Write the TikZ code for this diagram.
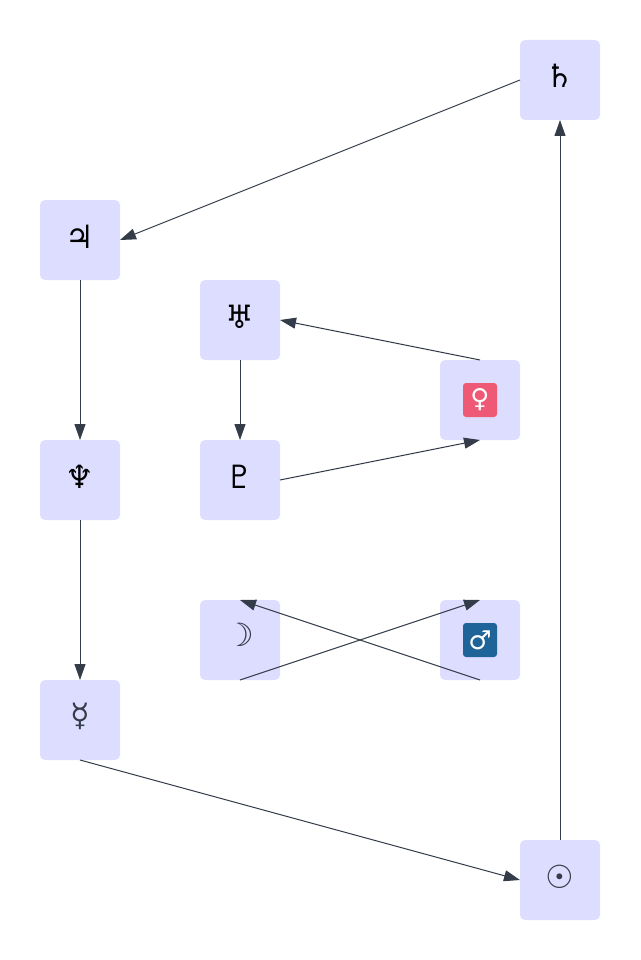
\documentclass[tikz,border=0pt]{standalone}
\usepackage{fontspec}
\usepackage{xcolor}
\usetikzlibrary{arrows.meta,positioning}
\setmainfont{DejaVu Sans}
\definecolor{PlanetFill}{HTML}{DDDDFF}
\definecolor{PlanetLine}{HTML}{333C48}
\definecolor{VenusRed}{HTML}{EE5A75}
\definecolor{MarsBlue}{HTML}{1F6498}
\newcommand{\liftglyph}[2]{\raisebox{#1}[0pt][0pt]{#2}}

\begin{document}
\begin{tikzpicture}[
  x=1pt, y=1pt,
  planet/.style={fill=PlanetFill, rounded corners=5pt, minimum size=80pt, inner sep=0pt, outer sep=0pt, font=\fontsize{32}{32}\selectfont},
  badge/.style={rounded corners=3pt, minimum size=34pt, inner sep=0pt, text=white, font=\fontsize{26}{26}\selectfont\bfseries},
  arrow/.style={-{Triangle[length=16pt,width=11pt]}, line width=1pt, draw=PlanetLine}
]
  \useasboundingbox (0,0) rectangle (640,-960);
  \node[planet] at (560,-80) (saturn) {\liftglyph{-8pt}{♄}};
  \node[planet, below left=80pt and 400pt of saturn] (jupiter) {\liftglyph{-8pt}{♃}};
  \node[planet, below=160pt of jupiter] (neptune) {\liftglyph{-8pt}{♆}};
  \node[planet, below=160pt of neptune, text=PlanetLine] (mercury) {\liftglyph{-6pt}{☿}};
  \node[planet, below right=80pt and 400pt of mercury, text=PlanetLine] (sun) {\liftglyph{-8pt}{☉}};
  \node[planet, below right=0pt and 80pt of jupiter] (uranus) {\liftglyph{-8pt}{♅}};
  \node[planet, below=80pt of uranus] (pluto) {\liftglyph{-8pt}{♇}};
  \node[planet, below=80pt of pluto, text=PlanetLine] (moon) {\liftglyph{-6pt}{☽}};
  \node[planet, below right=0pt and 160pt of uranus] (venus) {};
  \node[planet, below=160pt of venus] (mars) {};
  \node[badge, fill=VenusRed] at (venus) (venusbadge) {♀};
  \node[badge, fill=MarsBlue] at (mars) (marsbadge) {♂};
  \draw[arrow] (saturn.west) -- (jupiter.east);
  \draw[arrow] (jupiter.south) -- (neptune.north);
  \draw[arrow] (neptune.south) -- (mercury.north);
  \draw[arrow] (mercury.south) -- (sun.west);
  \draw[arrow] (sun.north) -- (saturn.south);
  \draw[arrow] (uranus.south) -- (pluto.north);
  \draw[arrow] (pluto.east) -- (venus.south);
  \draw[arrow] (venus.north) -- (uranus.east);
  \draw[arrow] (mars.south) -- (moon.north);
  \draw[arrow] (moon.south) -- (mars.north);
\end{tikzpicture}
\end{document}
